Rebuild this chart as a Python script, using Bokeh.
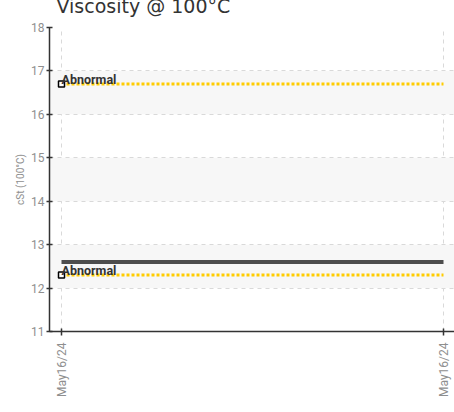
import math
import pandas as pd
from bokeh.plotting import figure
from bokeh.models import FixedTicker, DatetimeTickFormatter, Range1d, ColumnDataSource
from bokeh.core.properties import value
from bokeh.embed import file_html
from bokeh.resources import INLINE

# ---- data ----
title_text = "Viscosity @ 100°C"
y_label = "cSt (100°C)"
dates = pd.to_datetime(["2024-05-16 06:00", "2024-05-16 18:00"])
viscosity = [12.6, 12.6]
limit_names = ["Abnormal", "Abnormal"]
limit_values = [16.7, 12.3]
y_ticks = [11, 12, 13, 14, 15, 16, 17, 18]
y_min, y_max = 11, 18

# ---- layout ----
S = 19  # shift up so the title sits partly above the window, as in the reference
W, H = 454, 412 + S

t_ms = [d.value / 1e6 for d in dates]
span = t_ms[1] - t_ms[0]
x_start = t_ms[0] - span * 12 / 382
x_end = t_ms[1] + span * 11 / 382

p = figure(width=W, height=H, output_backend="svg", toolbar_location=None,
           x_axis_type="datetime",
           x_range=Range1d(x_start, x_end), y_range=Range1d(y_min, y_max),
           min_border_left=49, min_border_right=0,
           min_border_top=27 + S, min_border_bottom=H - (331 + S))
p.styles = {"margin-top": f"-{S}px"}
p.outline_line_color = None
p.background_fill_color = "white"

# title
p.title.text = title_text
p.title.text_font = "DejaVu Sans"
p.title.text_font_size = "19px"
p.title.text_font_style = "normal"
p.title.text_color = "#333333"
p.title.align = "left"
p.title.offset = 7
p.title.standoff = 22

tick_font = "Roboto"
# axes
for ax in (p.xaxis[0], p.yaxis[0]):
    ax.axis_line_color = "#333333"
    ax.axis_line_width = 1.5
    ax.major_tick_line_color = "#333333"
    ax.major_tick_line_width = 1.5
    ax.minor_tick_line_color = None
    ax.major_label_text_color = "#8f8f8f"
    ax.major_label_text_font = tick_font
    ax.major_label_text_font_size = "12px"

p.yaxis.ticker = FixedTicker(ticks=y_ticks)
p.yaxis.major_tick_out = 3
p.yaxis.major_tick_in = 3
p.yaxis.major_label_standoff = 2
p.yaxis.axis_label = y_label
p.yaxis.axis_label_text_font = tick_font
p.yaxis.axis_label_text_font_size = "10px"
p.yaxis.axis_label_text_font_style = "normal"
p.yaxis.axis_label_text_color = "#8f8f8f"
p.yaxis.axis_label_standoff = 2

xt = FixedTicker(ticks=t_ms)
p.xaxis.ticker = xt
p.xgrid.ticker = xt
p.xaxis.major_tick_out = 4
p.xaxis.major_tick_in = 3
p.xaxis.major_label_standoff = 7
p.xaxis.major_label_orientation = math.pi / 2
fmt = "%b%d/%y"
p.xaxis.formatter = DatetimeTickFormatter(
    microseconds=fmt, milliseconds=fmt, seconds=fmt, minsec=fmt, minutes=fmt,
    hourmin=fmt, hours=fmt, days=fmt, months=fmt, years=fmt)

# grids
p.ygrid.ticker = FixedTicker(ticks=y_ticks)
for g in (p.xgrid[0], p.ygrid[0]):
    g.grid_line_color = "#d9d9d9"
    g.grid_line_dash = "4 4"
    g.grid_line_width = 1
p.ygrid.band_fill_color = "#f7f7f7"
p.ygrid.band_fill_alpha = 1

# data line
src = ColumnDataSource(dict(x=list(dates), y=viscosity))
p.line("x", "y", source=src, line_color="#4d4d4d", line_width=4)

# limit lines
for name, lv in zip(limit_names, limit_values):
    p.line(x=list(dates), y=[lv, lv], line_color="#ffcc00", line_width=3,
           line_dash="3 2")

lim_src = ColumnDataSource(dict(x=[dates[0]] * len(limit_values), y=limit_values,
                                name=limit_names))
p.scatter("x", "y", source=lim_src, marker="square", size=6,
          fill_color="white", line_color="black", line_width=1.5)
p.text("x", "y", text="name", source=lim_src, x_offset=0, y_offset=-4.5,
       text_font=value("Roboto"), text_font_size="12.5px", text_font_style="bold",
       text_color="#333333", text_baseline="alphabetic", text_align="left")

open("out.html", "w").write(file_html(p, INLINE))
